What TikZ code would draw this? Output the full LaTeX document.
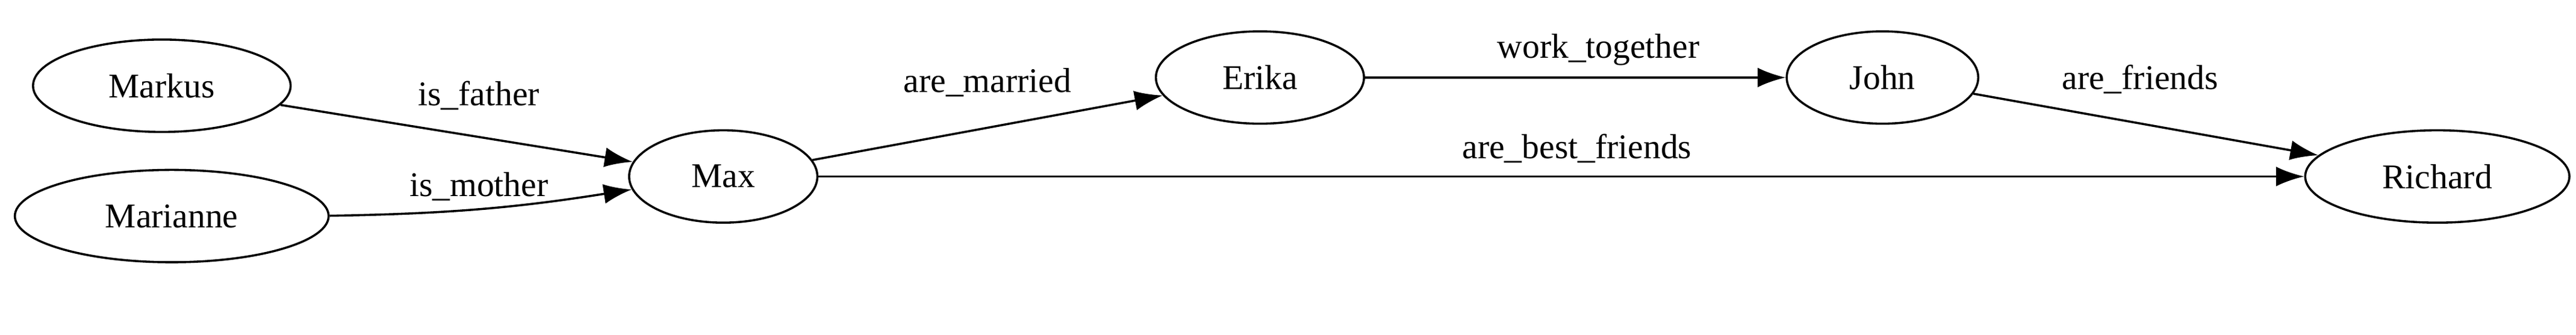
\documentclass[tikz,border=0pt]{standalone}
\usepackage{fontspec}
\setmainfont{Liberation Serif}
\usetikzlibrary{shapes.geometric,arrows.meta}
\begin{document}
\begin{tikzpicture}[x=1pt,y=-1pt,
  nd/.style={draw,ellipse,line width=1.3pt,minimum height=56pt,inner sep=0pt,font=\fontsize{21}{23}\selectfont},
  ed/.style={draw,line width=1.3pt,-{Latex[length=17pt,width=12pt]}},
  lb/.style={font=\fontsize{21}{23}\selectfont}]
\useasboundingbox (0,0) rectangle (1560,203);
\node[nd,minimum width=156pt] (markus) at (98,52) {Markus};
\node[nd,minimum width=190pt] (marianne) at (104,131) {Marianne};
\node[nd,minimum width=114pt] (max) at (438,107) {Max};
\node[nd,minimum width=126pt] (erika) at (763,47) {Erika};
\node[nd,minimum width=116pt] (john) at (1140,47) {John};
\node[nd,minimum width=160pt] (richard) at (1476,107) {Richard};
\draw[ed] (markus) -- (max);
\draw[ed] (marianne) to[bend right=4] (max);
\draw[ed] (max) -- (erika);
\draw[ed] (erika) -- (john);
\draw[ed] (john) -- (richard);
\draw[ed] (max) -- (richard);
\node[lb] (l1) at (290,58) {is\_father};
\node[lb] (l2) at (290,113) {is\_mother};
\node[lb] (l3) at (598,50) {are\_married};
\node[lb] (l4) at (968,30) {work\_together};
\node[lb] (l5) at (1296,48) {are\_friends};
\node[lb] (l6) at (955,90) {are\_best\_friends};
\end{tikzpicture}
\end{document}
